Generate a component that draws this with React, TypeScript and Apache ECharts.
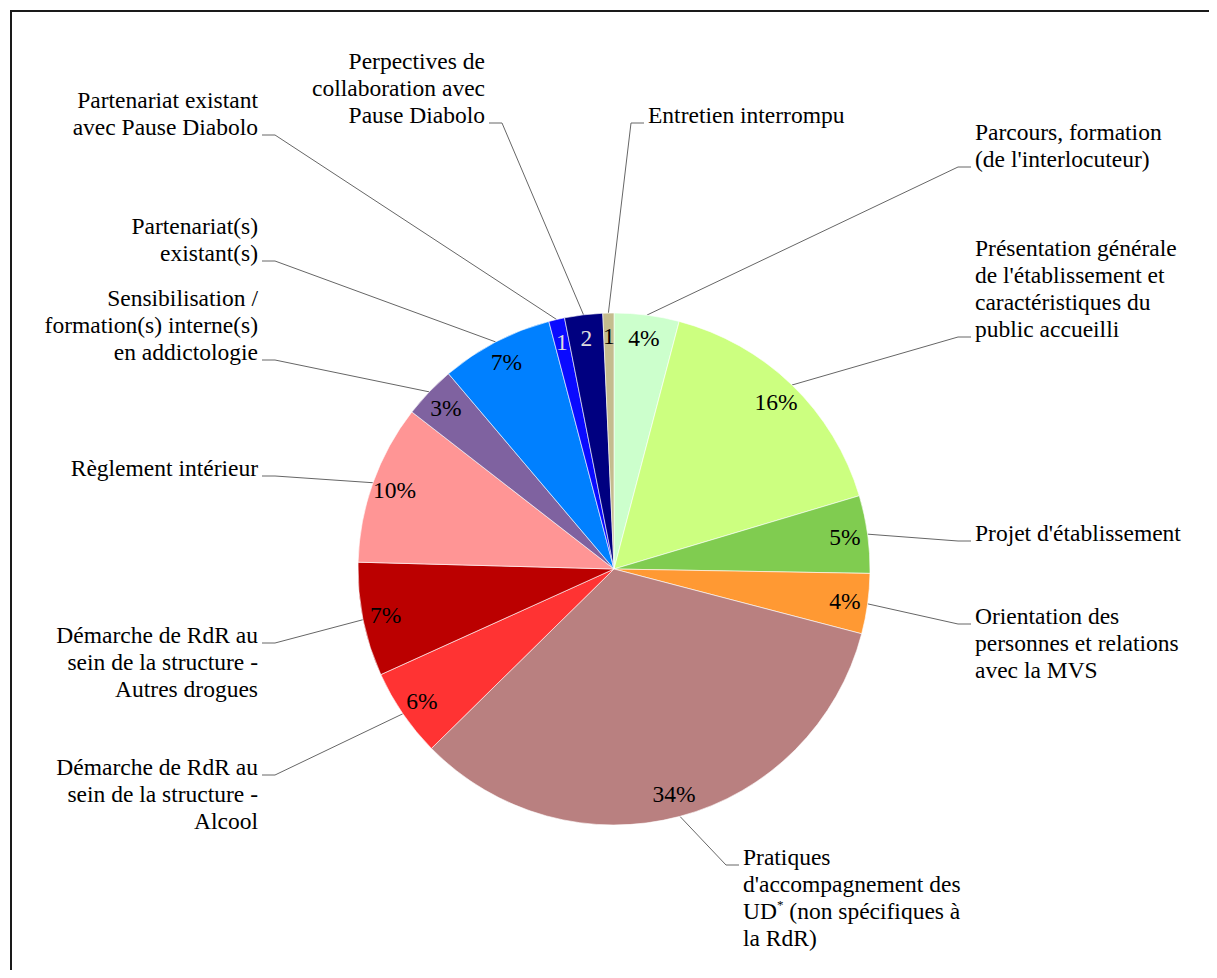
import React, { useEffect, useRef } from 'react';
import * as echarts from 'echarts';

// ---- Data ----
const categories: string[] = [
  "Parcours, formation\n(de l'interlocuteur)",
  "Présentation générale\nde l'établissement et\ncaractéristiques du\npublic accueilli",
  "Projet d'établissement",
  "Orientation des\npersonnes et relations\navec la MVS",
  "Pratiques\nd'accompagnement des\nUD* (non spécifiques à\nla RdR)",
  "Démarche de RdR au\nsein de la structure -\nAlcool",
  "Démarche de RdR au\nsein de la structure -\nAutres drogues",
  "Règlement intérieur",
  "Sensibilisation /\nformation(s) interne(s)\nen addictologie",
  "Partenariat(s)\nexistant(s)",
  "Partenariat existant\navec Pause Diabolo",
  "Perpectives de\ncollaboration avec\nPause Diabolo",
  "Entretien interrompu",
];
const shares: number[] = [4.1, 16.3, 4.9, 3.8, 33.6, 5.6, 7.2, 10.1, 3.3, 7.1, 1.0, 2.4, 0.7];

// ---- Styles ----
const colors: string[] = [
  '#CCFFCC', '#CCFF80', '#80CC50', '#FF9933', '#B98080', '#FF3333', '#BB0000',
  '#FF9595', '#7F62A0', '#0080FF', '#0A0AFF', '#000080', '#C4BC8E',
];
const innerLabelColors: string[] = [
  '#000', '#000', '#000', '#000', '#000', '#000', '#000',
  '#000', '#000', '#000', '#DDDDDD', '#DDDDDD', '#000',
];

// ---- Layout (chart pixel coordinates) ----
const CX = 606;
const CY = 561;
const R = 256;
const FONT = 23.5;
const LINE_H = 27;
const BASE_OFF = 21.5;
const labelX: number[] = [967, 967, 967, 967, 735, 250, 250, 250, 250, 250, 250, 477, 640];
const labelTop: number[] = [110.5, 226.5, 511.5, 594.5, 835.5, 745.5, 613.5, 446.5, 276.5, 204.5, 78.5, 39.5, 93.5];
const labelAlign: string[] = ['left', 'left', 'left', 'left', 'left', 'right', 'right', 'right', 'right', 'right', 'right', 'right', 'left'];

const FONT_FAMILY = 'Liberation Serif, Times New Roman, DejaVu Serif, serif';

export default function App() {
  const ref = useRef<HTMLDivElement>(null);
  useEffect(() => {
    if (!ref.current) return;
    const chart = echarts.init(ref.current, undefined, { renderer: 'svg' });
    const data = categories.map((name, i) => ({
      name,
      value: shares[i],
      itemStyle: { color: colors[i] },
    }));
    const innerData = categories.map((name, i) => ({
      name,
      value: shares[i],
      label: { color: innerLabelColors[i], fontFamily: FONT_FAMILY },
    }));
    chart.setOption({
      animation: false,
      backgroundColor: '#fff',
      textStyle: { fontFamily: FONT_FAMILY },
      graphic: [
        {
          type: 'polyline',
          shape: { points: [[3, 962], [3, 3], [1201, 3]] },
          style: { stroke: '#1a1a1a', lineWidth: 2, fill: 'none' },
          silent: true,
        },
      ],
      series: [
        {
          type: 'pie',
          center: [CX, CY],
          radius: [0, R],
          startAngle: 90,
          clockwise: true,
          avoidLabelOverlap: false,
          itemStyle: { borderColor: '#ffffff', borderWidth: 0.6 },
          label: {
            show: true,
            position: 'outer',
            overflow: 'none',
            fontFamily: FONT_FAMILY,
            fontSize: FONT,
            lineHeight: LINE_H,
            color: '#000',
            formatter: (p: any) => String(p.name).replace('UD*', 'UD{sup|*}'),
            rich: {
              sup: {
                fontFamily: FONT_FAMILY,
                fontSize: 13,
                lineHeight: LINE_H,
                verticalAlign: 'top',
                padding: [0, 0, 8, 0],
                color: '#000',
              },
            },
          },
          labelLine: {
            show: true,
            length: 10,
            length2: 10,
            lineStyle: { color: '#666', width: 1 },
          },
          labelLayout: (params: any) => {
            const i = params.dataIndex;
            const pts = params.labelLinePoints;
            const p0 = pts && pts[0] ? pts[0] : [CX, CY];
            const nLines = categories[i].split('\n').length;
            const idx = p0[1] < CY ? nLines - 1 : 0;
            const yb = labelTop[i] + idx * LINE_H + BASE_OFF;
            const dir = labelAlign[i] === 'left' ? -1 : 1;
            return {
              x: labelX[i],
              y: labelTop[i],
              align: labelAlign[i],
              verticalAlign: 'top',
              labelLinePoints: [
                [p0[0], p0[1]],
                [labelX[i] + dir * 17, yb],
                [labelX[i] + dir * 4, yb],
              ],
            };
          },
          data,
        },
        {
          type: 'pie',
          center: [CX, CY],
          radius: [204, R],
          startAngle: 90,
          clockwise: true,
          silent: true,
          avoidLabelOverlap: false,
          itemStyle: { color: 'rgba(0,0,0,0)', borderWidth: 0 },
          label: {
            show: true,
            position: 'inside',
            fontFamily: FONT_FAMILY,
            fontSize: FONT,
            formatter: (p: any) => {
              const v = Math.round(p.percent);
              return p.percent >= 3 ? v + '%' : String(v);
            },
          },
          labelLine: { show: false },
          data: innerData,
        },
      ],
    });
    return () => chart.dispose();
  }, []);
  return <div ref={ref} style={{ width: 1201, height: 962, overflow: 'hidden' }} />;
}
